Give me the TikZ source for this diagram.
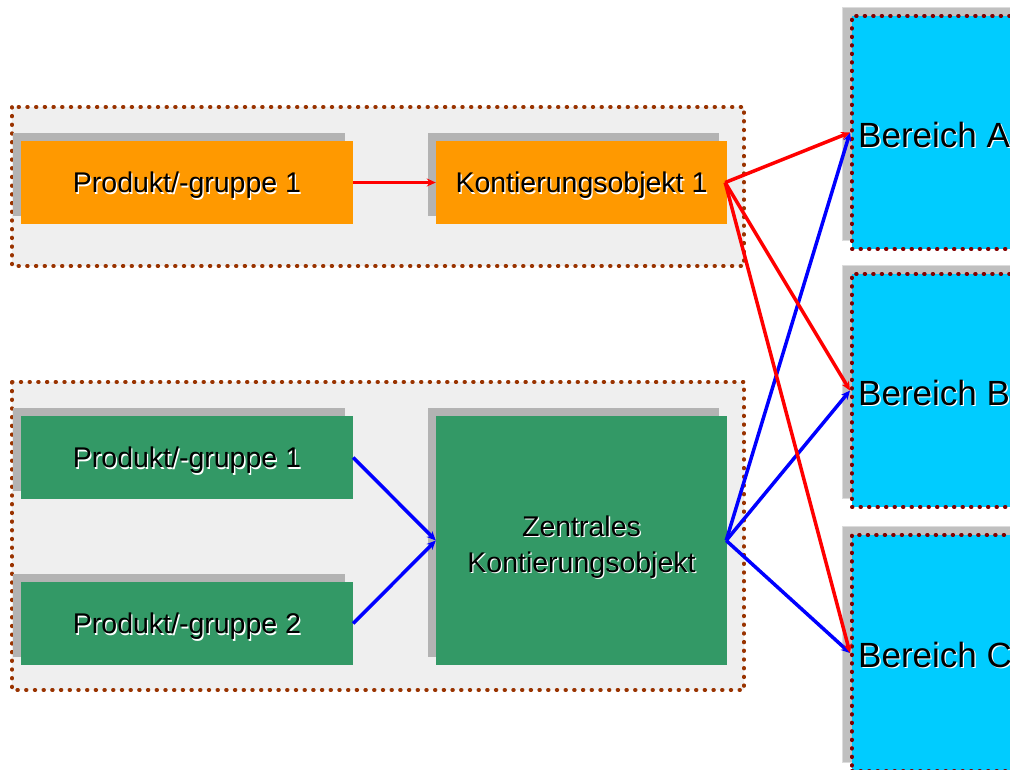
\documentclass[tikz,border=0pt]{standalone}
\usepackage{fontspec}
\setmainfont{Liberation Sans}
\usetikzlibrary{arrows.meta,shadows}
\definecolor{orng}{HTML}{FF9900}
\definecolor{grn}{HTML}{339966}
\definecolor{cyn}{HTML}{00CCFF}
\definecolor{shgray}{HTML}{B3B3B3}
\definecolor{bshade}{HTML}{C0C0C0}
\definecolor{bshadeline}{HTML}{DCDCDC}
\definecolor{grpfill}{HTML}{EFEFEF}
\definecolor{grpdot}{HTML}{993300}
\definecolor{bdot}{HTML}{800000}
\definecolor{lred}{HTML}{FF0000}
\definecolor{lblue}{HTML}{0000FF}
\newcommand\shtxt[1]{\rlap{\hspace{1.3pt}\raisebox{-1.3pt}{\color{white}#1}}#1}
\begin{document}
\begin{tikzpicture}[x=1pt,y=-1pt,
  grp/.style={fill=grpfill, draw=grpdot, line width=3.6pt, line cap=round, dash pattern=on 0.8pt off 7.9pt},
  box/.style={rectangle, inner sep=0pt, minimum height=83, text=black, text depth=0pt,
    font=\fontsize{28.5}{36}\selectfont,
    general shadow={fill=shgray, shadow xshift=-8.5pt, shadow yshift=8.5pt}},
  boxtext/.style={inner sep=0pt, text=black, align=center, font=\fontsize{28.5}{36}\selectfont},
  bereich/.style={rectangle, inner sep=0pt, anchor=west, minimum width=260, fill=cyn,
    draw=bdot, line width=3.6pt, line cap=round, dash pattern=on 0.8pt off 7.7pt,
    general shadow={fill=bshade, draw=bshadeline, line width=1pt, solid, shadow xshift=-9.5pt, shadow yshift=9pt}},
  btext/.style={anchor=west, inner sep=0pt, text=black, text depth=0pt, font=\fontsize{35}{42}\selectfont},
  redarr/.style={draw=lred, line width=3.5pt, -{Stealth[length=9pt,width=8pt]}},
  bluearr/.style={draw=lblue, line width=3.5pt, -{Stealth[length=9pt,width=8pt]}}
]
\useasboundingbox (0,0) rectangle (1010,769);
\clip (0,0) rectangle (1010,769);
\fill[white] (0,0) rectangle (1010,769);

% groups
\draw[grp] (12,107) rectangle (744,266);
\draw[grp] (12,382) rectangle (744,690);

% boxes
\node[box, fill=orng, minimum width=332] (p1) at (187,182.5) {\shtxt{Produkt/-gruppe 1}};
\node[box, fill=orng, minimum width=291] (k1) at (581.5,182.5) {\shtxt{Kontierungsobjekt 1}};
\node[box, fill=grn, minimum width=332] (g1) at (187,457.5) {\shtxt{Produkt/-gruppe 1}};
\node[box, fill=grn, minimum width=332] (g2) at (187,623.5) {\shtxt{Produkt/-gruppe 2}};
\node[box, fill=grn, minimum width=291, minimum height=249] (z) at (581.5,540.5) {};
\node[boxtext] (zt) at ([yshift=-7pt]z.center) {\shtxt{Zentrales}\\\shtxt{Kontierungsobjekt}};

% Bereiche
\node[bereich, minimum height=233] (bA) at (850,132.5) {};
\node[bereich, minimum height=233] (bB) at (850,390.5) {};
\node[bereich, minimum height=236] (bC) at (850,653) {};
\node[btext] (tA) at ([xshift=8pt,yshift=-2pt]bA.west) {\shtxt{Bereich A}};
\node[btext] (tB) at ([xshift=8pt,yshift=-2pt]bB.west) {\shtxt{Bereich B}};
\node[btext] (tC) at ([xshift=8pt,yshift=-2pt]bC.west) {\shtxt{Bereich C}};

% connectors
\draw[redarr, line width=3pt] (p1.east) -- (k1.west);
\draw[bluearr] (g1.east) -- (z.west);
\draw[bluearr] (g2.east) -- (z.west);
\draw[bluearr] ([xshift=-1pt]z.east) -- (bA.west);
\draw[bluearr] ([xshift=-1pt]z.east) -- (bB.west);
\draw[bluearr] ([xshift=-1pt]z.east) -- (bC.west);
\draw[redarr] ([xshift=-2pt]k1.east) -- (bA.west);
\draw[redarr] ([xshift=-2pt]k1.east) -- (bB.west);
\draw[redarr] ([xshift=-2pt]k1.east) -- (bC.west);
\end{tikzpicture}
\end{document}
